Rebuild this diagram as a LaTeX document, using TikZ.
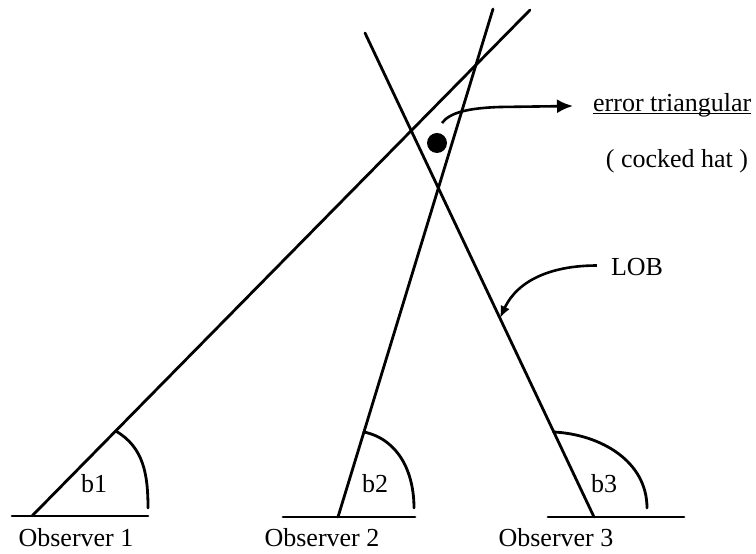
\documentclass[tikz,border=0pt]{standalone}
\usepackage{fontspec}
\setmainfont{Liberation Serif}
\usetikzlibrary{arrows.meta}
\begin{document}
\begin{tikzpicture}[x=1pt,y=1pt,
  ln/.style={line width=2.8pt, line cap=round},
  lbl/.style={font=\fontsize{26}{30}\selectfont, inner sep=0pt},
  pointer/.style={line width=2.6pt, -{Latex[length=16pt,width=14pt]}},
  smallpointer/.style={line width=2.6pt, -{Latex[length=12pt,width=10pt]}}]
\useasboundingbox (0,0) rectangle (756,554);
% observer points and line ends
\coordinate (o1) at (32,38);   \coordinate (t1) at (530,544);
\coordinate (o2) at (338,37);  \coordinate (t2) at (493,545);
\coordinate (o3) at (594,37);  \coordinate (t3) at (365,521);
% baselines
\draw[ln] (12,38) -- (148,38);
\draw[ln] (283,37) -- (415,37);
\draw[ln] (548,37) -- (684,37);
% lines of bearing
\draw[ln] (o1) -- (t1);
\draw[ln] (o2) -- (t2);
\draw[ln] (o3) -- (t3);
% angle arcs
\draw[ln] (115.7,123) to[out=-30,in=90] (148,46);
\draw[ln] (363.9,122) to[out=-12,in=90] (414,46);
\draw[ln] (553.8,122) to[out=-3,in=90] (647,46);
% angle labels
\node[lbl, anchor=base] (b1) at (94,61) {b1};
\node[lbl, anchor=base] (b2) at (375,61) {b2};
\node[lbl, anchor=base] (b3) at (604,61) {b3};
% observer labels
\node[lbl, anchor=base] (obs1) at (76,7) {Observer 1};
\node[lbl, anchor=base] (obs2) at (322,7) {Observer 2};
\node[lbl, anchor=base] (obs3) at (556,7) {Observer 3};
% fix dot
\fill (437,411) circle (10);
% error triangular
\node[lbl, anchor=base west] (err) at (593,442) {error triangular};
\draw[line width=1.4pt] ([yshift=-1.5pt]err.base west) -- ([yshift=-1.5pt]err.base east);
\node[lbl, anchor=base] (hat) at (677,386) {( cocked hat )};
\coordinate (es) at (442,431);
\draw[pointer] (es) .. controls (450,442) and (470,446) .. (500,447) -- ([xshift=-20pt]err.west |- 0,448);
% LOB
\node[lbl, anchor=base] (lob) at (637,278) {LOB};
\coordinate (lobtip) at (500,236);
\draw[smallpointer] ([xshift=-14pt,yshift=2pt]lob.west) to[out=180,in=65] (lobtip);
\end{tikzpicture}
\end{document}
